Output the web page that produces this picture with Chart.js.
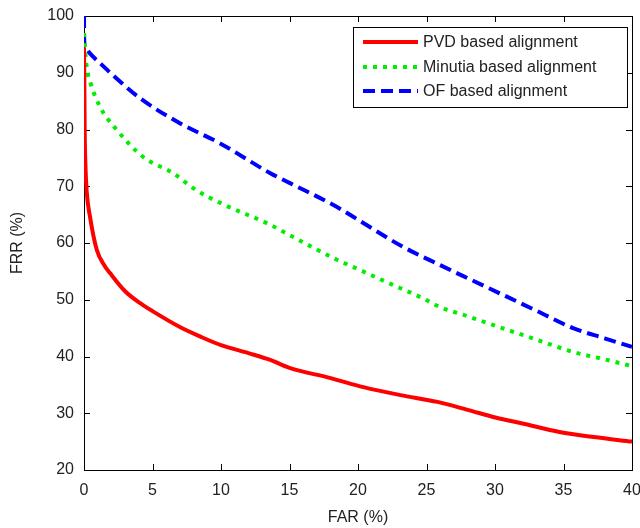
<!DOCTYPE html>
<html>
<head>
<meta charset="utf-8">
<script src="https://cdn.jsdelivr.net/npm/chart.js@4/dist/chart.umd.min.js"></script>
<style>
html,body{margin:0;padding:0;background:#fff;}
#wrap{width:640px;height:528px;position:relative;}
</style>
</head>
<body>
<div id="wrap"><canvas id="c" width="640" height="528"></canvas></div>
<script>
// ---- data ----
const seriesLabels = ["PVD based alignment", "Minutia based alignment", "OF based alignment"];

const pvdFar = [0, 0.02, 0.05, 0.1, 0.2, 0.44, 0.93, 1.5, 1.9, 3, 4.1, 5, 7, 8.5, 10, 12, 13.6, 15, 18, 20.4, 23.1, 25.8, 28, 30.1, 32, 34.7, 37.2, 40];
const pvdFrr = [94.5, 90, 80, 74, 69, 64.6, 58.8, 56, 54.7, 51.5, 49.4, 48, 45.2, 43.5, 42, 40.6, 39.4, 38, 36.2, 34.6, 33.2, 32, 30.6, 29.2, 28.2, 26.7, 25.8, 25];

const minFar = [0, 0.05, 0.2, 0.5, 1.17, 2.4, 4.3, 6.5, 8.2, 10, 13.6, 15, 18.5, 20, 22, 24.7, 26, 28, 30.9, 33, 35.7, 38, 40];
const minFrr = [97, 95, 91, 88, 84, 79.9, 75.2, 72.3, 69.3, 67, 63.2, 61.4, 57, 55.4, 53.2, 50.3, 48.7, 47.1, 44.7, 43, 40.8, 39.5, 38.3];

const ofFar = [0, 0.01, 0.1, 0.4, 1.17, 2.1, 4.1, 7, 9.9, 13.6, 15, 18.5, 20, 23.3, 26, 28, 30.9, 33, 35.7, 38, 40];
const ofFrr = [100, 96, 94.5, 93.5, 91.7, 89.6, 85.5, 81.1, 77.6, 72.3, 70.6, 66.3, 64.1, 59.3, 56.1, 53.8, 50.5, 48.1, 45, 43.2, 41.7];

const xTicks = [0, 5, 10, 15, 20, 25, 30, 35, 40];
const yTicks = [20, 30, 40, 50, 60, 70, 80, 90, 100];
const xTitle = "FAR (%)";
const yTitle = "FRR (%)";

const toPts = (xs, ys) => xs.map((x, i) => ({x: x, y: ys[i]}));

const FONT = '"Liberation Sans", Arial, sans-serif';
const TXT = '#222';

const frame = {
  id: 'frame',
  beforeDatasetsDraw(chart) {
    const {ctx, chartArea: a, scales: {x, y}} = chart;
    ctx.save();
    ctx.strokeStyle = '#000';
    ctx.lineWidth = 1;
    ctx.strokeRect(Math.round(a.left) + 0.5, Math.round(a.top) + 0.5, Math.round(a.right - a.left), Math.round(a.bottom - a.top));
    const tl = 6;
    ctx.beginPath();
    xTicks.forEach(v => {
      const px = Math.round(x.getPixelForValue(v)) + 0.5;
      ctx.moveTo(px, a.bottom); ctx.lineTo(px, a.bottom - tl);
      ctx.moveTo(px, a.top); ctx.lineTo(px, a.top + tl);
    });
    yTicks.forEach(v => {
      const py = Math.round(y.getPixelForValue(v)) + 0.5;
      ctx.moveTo(a.left, py); ctx.lineTo(a.left + tl, py);
      ctx.moveTo(a.right, py); ctx.lineTo(a.right - tl, py);
    });
    ctx.stroke();
    ctx.restore();
  },
  afterDraw(chart) {
    const {ctx} = chart;
    const bx = 353, by = 27, bw = 274, bh = 80;
    ctx.save();
    ctx.fillStyle = '#fff';
    ctx.fillRect(bx, by, bw, bh);
    ctx.strokeStyle = '#000';
    ctx.lineWidth = 1;
    ctx.strokeRect(bx + 0.5, by + 0.5, bw, bh);
    const rows = [42, 67, 91];
    chart.data.datasets.forEach((ds, i) => {
      ctx.beginPath();
      ctx.strokeStyle = ds.borderColor;
      ctx.lineWidth = ds.borderWidth;
      ctx.setLineDash(ds.borderDash || []);
      ctx.moveTo(363, rows[i]); ctx.lineTo(418, rows[i]);
      ctx.stroke();
      ctx.setLineDash([]);
      ctx.fillStyle = TXT;
      ctx.font = '16px ' + FONT;
      ctx.textBaseline = 'middle';
      ctx.textAlign = 'left';
      ctx.fillText(ds.label, 423, rows[i] + 1);
    });
    ctx.restore();
  }
};

new Chart(document.getElementById('c'), {
  type: 'line',
  data: {
    datasets: [
      {label: seriesLabels[0], data: toPts(pvdFar, pvdFrr), borderColor: '#ff0000', borderWidth: 4, pointRadius: 0, cubicInterpolationMode: 'monotone', fill: false},
      {label: seriesLabels[1], data: toPts(minFar, minFrr), borderColor: '#00ee00', borderWidth: 4, borderDash: [4, 6], pointRadius: 0, cubicInterpolationMode: 'monotone', fill: false},
      {label: seriesLabels[2], data: toPts(ofFar, ofFrr), borderColor: '#0000ff', borderWidth: 4, borderDash: [12, 6], pointRadius: 0, cubicInterpolationMode: 'monotone', fill: false}
    ]
  },
  options: {
    responsive: false,
    animation: false,
    layout: {padding: {left: 0, right: 8, top: 16, bottom: 0}},
    plugins: {legend: {display: false}, tooltip: {enabled: false}},
    scales: {
      x: {
        type: 'linear', min: 0, max: 40,
        grid: {display: false, drawTicks: false},
        border: {display: false},
        afterBuildTicks: s => { s.ticks = xTicks.map(v => ({value: v})); },
        afterFit: s => { s.height = 58; s.paddingRight = 0; s.paddingLeft = 0; },
        ticks: {padding: 11, color: TXT, font: {family: FONT, size: 16}, maxRotation: 0},
        title: {display: true, text: xTitle, color: TXT, font: {family: FONT, size: 16}, padding: {top: 0, bottom: 1}}
      },
      y: {
        type: 'linear', min: 20, max: 100,
        grid: {display: false, drawTicks: false},
        border: {display: false},
        afterBuildTicks: s => { s.ticks = yTicks.map(v => ({value: v})); },
        afterFit: s => { s.width = 84; s.paddingTop = 0; s.paddingBottom = 0; },
        ticks: {padding: 10, color: TXT, font: {family: FONT, size: 16}},
        title: {display: true, text: yTitle, color: TXT, font: {family: FONT, size: 16}, padding: {top: 8, bottom: 0}}
      }
    }
  },
  plugins: [frame]
});
</script>
</body>
</html>
